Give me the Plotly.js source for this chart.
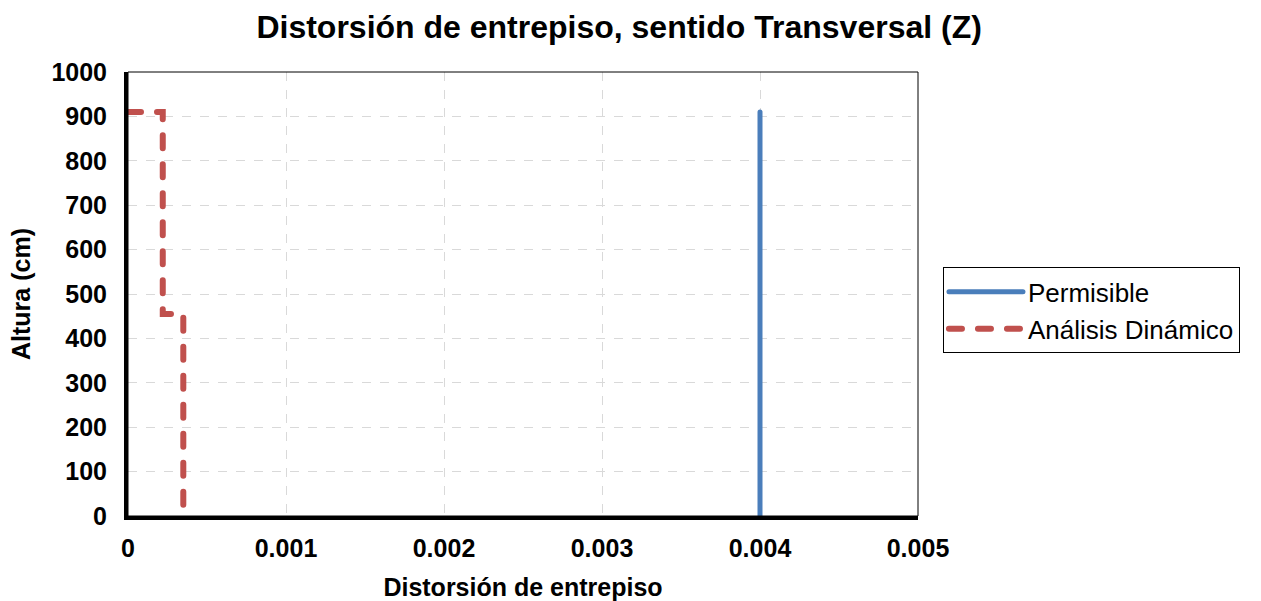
<!DOCTYPE html>
<html>
<head>
<meta charset="utf-8">
<script src="https://cdn.plot.ly/plotly-3.0.1.min.js"></script>
<style>
html,body{margin:0;padding:0;background:#fff;}
#chart{width:1261px;height:601px;}
.scatterlayer path, .legend path{stroke-linecap:round !important;}
</style>
</head>
<body>
<div id="chart"></div>
<script>
// Data
const permisibleX = [0.004, 0.004];
const permisibleY = [0, 910];
const dinamicoX = [0, 0.00022, 0.00022, 0.00035, 0.00035];
const dinamicoY = [910, 910, 455, 455, 0];
const xTicks = [0, 0.001, 0.002, 0.003, 0.004, 0.005];
const xTickLabels = ['0', '0.001', '0.002', '0.003', '0.004', '0.005'];
const yTicks = [0, 100, 200, 300, 400, 500, 600, 700, 800, 900, 1000];

const fam = 'Liberation Sans, Arial, sans-serif';

const traces = [
  {x: permisibleX, y: permisibleY, name: 'Permisible', mode: 'lines',
   line: {color: '#4a7ebb', width: 5}},
  {x: dinamicoX, y: dinamicoY, name: 'Análisis Dinámico', mode: 'lines',
   line: {color: '#c0504d', width: 6, dash: '13px,16px'}}
];

const layout = {
  width: 1261, height: 601,
  margin: {l: 128, r: 343, t: 72, b: 85},
  paper_bgcolor: '#fff', plot_bgcolor: '#fff',
  font: {family: fam, color: '#000'},
  title: {text: '<b>Distorsión de entrepiso, sentido Transversal (Z)</b>',
    font: {family: fam, size: 32, color: '#000'},
    x: 0.491, xref: 'container', xanchor: 'center', y: 0.955, yref: 'container', yanchor: 'middle'},
  xaxis: {range: [0, 0.005], tickvals: xTicks, ticktext: xTickLabels.map(t => '<b>' + t + '</b>'),
    showgrid: true, gridcolor: '#d9d9d9', griddash: 'dash', gridwidth: 1,
    zeroline: false, showline: true, linecolor: '#000', linewidth: 4,
    ticks: '', ticklabelstandoff: 7,
    tickfont: {family: fam, size: 25, color: '#000'},
    title: {text: '<b>Distorsión de entrepiso</b>', font: {family: fam, size: 25, color: '#000'}, standoff: 22}},
  yaxis: {range: [0, 1000], tickvals: yTicks, ticktext: yTicks.map(t => '<b>' + t + '</b>'),
    showgrid: true, gridcolor: '#d9d9d9', griddash: 'dash', gridwidth: 1,
    zeroline: false, showline: true, linecolor: '#000', linewidth: 4,
    ticks: '', ticklabelstandoff: 12,
    tickfont: {family: fam, size: 25, color: '#000'},
    title: {text: '<b>Altura (cm)</b>', font: {family: fam, size: 25, color: '#000'}, standoff: 15}},
  showlegend: true,
  legend: {x: 1.0316, xanchor: 'left', y: 0.463, yanchor: 'middle',
    bordercolor: '#000', borderwidth: 1, bgcolor: '#fff',
    font: {family: fam, size: 26, color: '#000'},
    tracegroupgap: 0, itemwidth: 74},
  shapes: [
    {type: 'rect', xref: 'paper', yref: 'paper', x0: 0, x1: 1, y0: 0, y1: 1,
     line: {color: '#000', width: 1}, fillcolor: 'rgba(0,0,0,0)', layer: 'above'}
  ]
};

Plotly.newPlot('chart', traces, layout, {displayModeBar: false, staticPlot: true}).then(function (gd) {
  gd.querySelectorAll('.scatterlayer path, .legend path').forEach(function (p) {
    p.style.setProperty('stroke-linecap', 'round', 'important');
  });
});
</script>
</body>
</html>
